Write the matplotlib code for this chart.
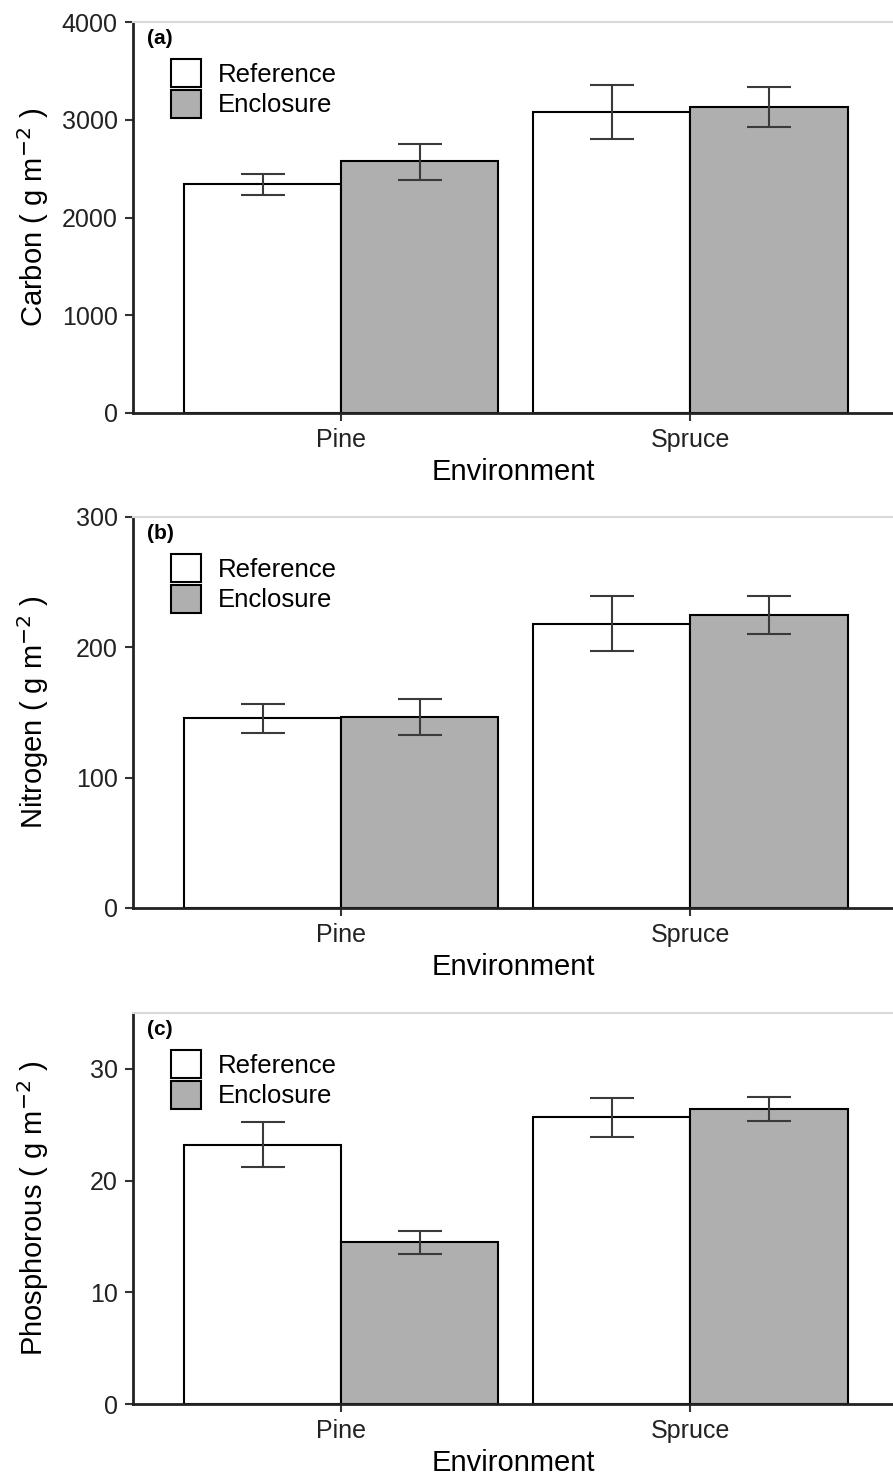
import numpy as np
import matplotlib
matplotlib.use("Agg")
import matplotlib.pyplot as plt

plt.rcParams['font.family'] = ['Liberation Sans', 'DejaVu Sans']

environments = ["Pine", "Spruce"]
treatments = ["Reference", "Enclosure"]

carbon_mean = {"Reference": [2343, 3079], "Enclosure": [2578, 3130]}
carbon_lo = {"Reference": [2230, 2803], "Enclosure": [2384, 2926]}
carbon_hi = {"Reference": [2445, 3355], "Enclosure": [2752, 3335]}

nitrogen_mean = {"Reference": [145.8, 218.0], "Enclosure": [146.6, 224.9]}
nitrogen_lo = {"Reference": [134.3, 197.2], "Enclosure": [132.8, 210.3]}
nitrogen_hi = {"Reference": [156.6, 239.4], "Enclosure": [160.4, 239.4]}

phos_mean = {"Reference": [23.2, 25.7], "Enclosure": [14.46, 26.4]}
phos_lo = {"Reference": [21.25, 23.9], "Enclosure": [13.4, 25.3]}
phos_hi = {"Reference": [25.2, 27.4], "Enclosure": [15.5, 27.5]}

panels = [
    ("(a)", "Carbon ( g m$^{-2}$ )", carbon_mean, carbon_lo, carbon_hi, 4000, [0, 1000, 2000, 3000, 4000]),
    ("(b)", "Nitrogen ( g m$^{-2}$ )", nitrogen_mean, nitrogen_lo, nitrogen_hi, 300, [0, 100, 200, 300]),
    ("(c)", "Phosphorous ( g m$^{-2}$ )", phos_mean, phos_lo, phos_hi, 35, [0, 10, 20, 30]),
]

fills = {"Reference": "white", "Enclosure": "#afafaf"}
offsets = {"Reference": -0.225, "Enclosure": 0.225}

W, H = 893, 1475
fig = plt.figure(figsize=(W / 100, H / 100), dpi=100)

# axes boxes in pixels: (top, bottom)
boxes = [(22, 413), (517, 908), (1013, 1404)]
left_px, right_px = 133, 893

x = np.arange(1, len(environments) + 1)

for (tag, ylab, mean, lo, hi, ymax, yticks), (top, bot) in zip(panels, boxes):
    ax = fig.add_axes([left_px / W, 1 - bot / H, (right_px - left_px) / W, (bot - top) / H])
    for t in treatments:
        m = np.array(mean[t])
        ax.bar(x + offsets[t], m, width=0.45, color=fills[t], edgecolor="black",
               linewidth=1.5, label=t, zorder=2)
        yerr = np.vstack([m - np.array(lo[t]), np.array(hi[t]) - m])
        ax.errorbar(x + offsets[t], m, yerr=yerr, fmt="none", ecolor="#3a3a3a",
                    elinewidth=1.5, capsize=15.8, capthick=1.5, zorder=3)

    ax.set_xlim(0.404, 2.58)
    ax.set_ylim(0, ymax)
    ax.set_yticks(yticks)
    ax.set_xticks(x)
    ax.set_xticklabels(environments)
    ax.tick_params(axis="both", labelsize=18, width=1.5, length=6, pad=5,
                   color="#333333", labelcolor="#222222")
    ax.set_xlabel("Environment", fontsize=21, labelpad=4)
    ax.set_ylabel(ylab, fontsize=21)
    ax.yaxis.set_label_coords(-0.108, 0.5)

    for s in ["left", "bottom"]:
        ax.spines[s].set_linewidth(2)
        ax.spines[s].set_color("#222222")
    ax.spines["right"].set_visible(False)
    ax.spines["top"].set_color("#d9d9d9")
    ax.spines["top"].set_linewidth(1.5)

    ax.text(0.018, 0.958, tag, transform=ax.transAxes, fontsize=15, fontweight="bold",
            va="center", ha="left")
    ax.legend(loc="upper left", bbox_to_anchor=(0.05, 0.905), frameon=False,
              fontsize=18.5, handlelength=1.17, handleheight=1.3, labelspacing=0.1,
              handletextpad=0.65, borderpad=0, borderaxespad=0)

fig.savefig("out.png", dpi=100)
